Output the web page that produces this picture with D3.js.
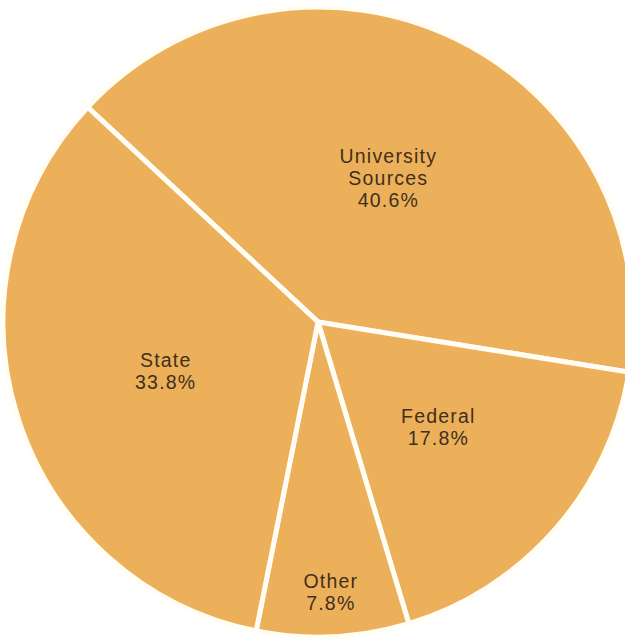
<!DOCTYPE html>
<html>
<head>
<meta charset="utf-8">
<script src="https://cdn.jsdelivr.net/npm/d3@7"></script>
<style>
  html, body { margin: 0; padding: 0; background: #ffffff; overflow: hidden; }
  svg { display: block; }
</style>
</head>
<body>
<svg id="chart" width="625" height="639"></svg>
<script>
// Sources of funds, share of total (percent)
const categories = ["University Sources", "Federal", "Other", "State"];
const labelLines = [["University", "Sources"], ["Federal"], ["Other"], ["State"]];
const shares = [40.6, 17.8, 7.8, 33.8];

const width = 625, height = 639;
const cx = 318, cy = 322, radius = 315;
const startDeg = -47;

const svg = d3.select("#chart");
const g = svg.append("g").attr("transform", `translate(${cx},${cy})`);

const data = categories.map((c, i) => ({ name: c, lines: labelLines[i], value: shares[i] }));

const pie = d3.pie()
  .value(d => d.value)
  .sort(null)
  .startAngle(startDeg * Math.PI / 180)
  .endAngle((startDeg + 360) * Math.PI / 180);

const arcs = pie(data);

const arc = d3.arc().innerRadius(0).outerRadius(radius);

g.selectAll("path.slice")
  .data(arcs)
  .join("path")
  .attr("class", "slice")
  .attr("d", arc)
  .attr("fill", "#EDB05A")
  .attr("stroke", "#fffdf4")
  .attr("stroke-width", 5)
  .attr("stroke-linejoin", "miter");

// labels: large slices near mid-radius, small slices pushed toward the rim
function labelRadius(d) {
  return d.data.value < 10 ? 270 : 160;
}

const lineH = 22;
const labels = g.selectAll("text.lbl")
  .data(arcs)
  .join("text")
  .attr("class", "lbl")
  .attr("transform", d => {
    const r = labelRadius(d);
    const [x, y] = d3.arc().innerRadius(r).outerRadius(r).centroid(d);
    return `translate(${x},${y})`;
  })
  .attr("text-anchor", "middle")
  .attr("font-family", "'Liberation Sans', Arial, Helvetica, sans-serif")
  .attr("font-size", 19.5)
  .attr("letter-spacing", 1.2)
  .attr("fill", "#3f2f1d");

labels.each(function(d) {
  const lines = d.data.lines.concat([d3.format(".1f")(d.data.value) + "%"]);
  const n = lines.length;
  const first = -((n - 1) * lineH) / 2 + 7;
  d3.select(this).selectAll("tspan")
    .data(lines)
    .join("tspan")
    .attr("x", 0)
    .attr("y", (t, i) => first + i * lineH)
    .text(t => t);
});
</script>
</body>
</html>
